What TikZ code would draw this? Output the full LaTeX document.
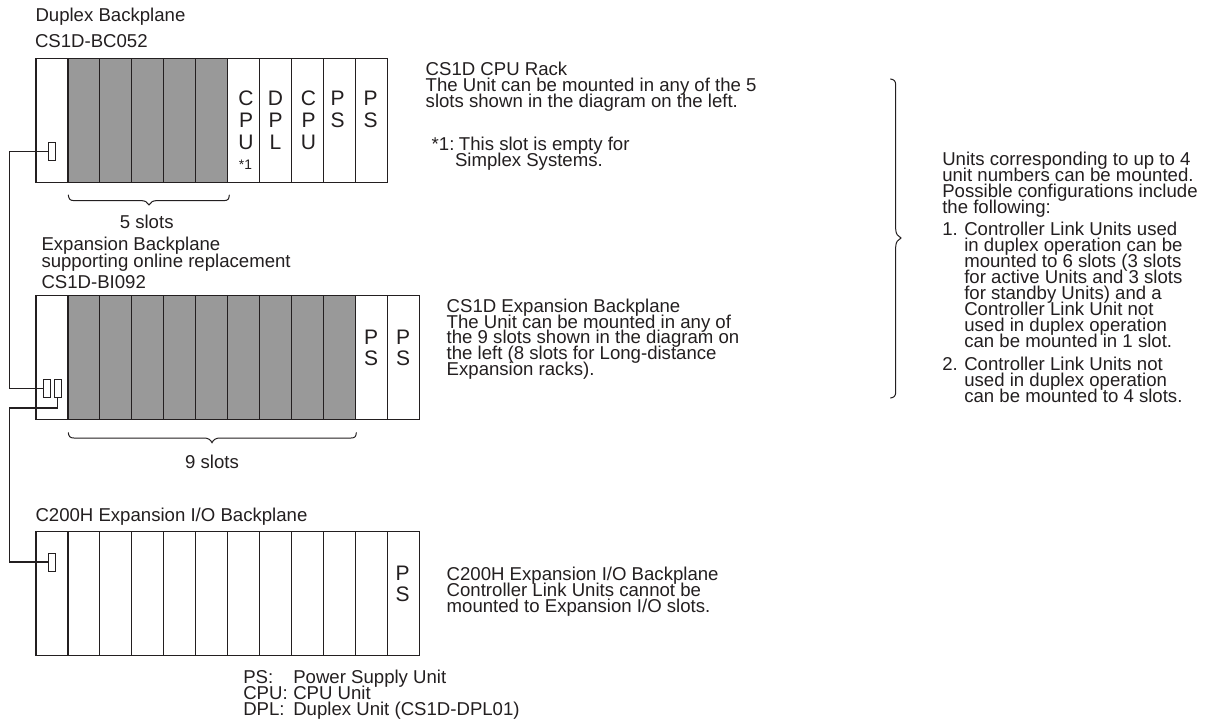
\documentclass[tikz,border=0pt]{standalone}
\usepackage{fontspec}
\setmainfont{Liberation Sans}
\definecolor{ink}{HTML}{231F20}
\definecolor{slotgray}{HTML}{999999}
\newcommand{\paralines}[2][16]{\vtop{\baselineskip=#1pt\lineskiplimit=-100pt\lineskip=0pt\let\\\cr\halign{##\hfil\cr #2\crcr}}}
\newcommand{\stacklines}[1]{\vtop{\baselineskip=21.8pt\lineskiplimit=-100pt\lineskip=0pt\let\\\cr\halign{\hfil##\hfil\cr #1\crcr}}}
\newcommand{\ind}[2]{\hbox to #1pt{#2\hfil}}
\tikzset{
  lab/.style={anchor=base west,inner sep=0pt,outer sep=0pt,text=ink,font=\fontsize{18.6}{16}\selectfont},
  labmid/.style={lab,anchor=base},
  letters/.style={anchor=base,inner sep=0pt,outer sep=0pt,text=ink,font=\fontsize{21}{22}\selectfont},
  mark1/.style={anchor=base,inner sep=0pt,outer sep=0pt,text=ink,font=\fontsize{13.8}{14}\selectfont},
  slotbox/.style={draw=ink,line width=1.1pt,fill=white,minimum width=31.95pt,minimum height=#1,inner sep=0pt,outer sep=0pt,anchor=north west},
  grayslot/.style={slotbox=#1,fill=slotgray},
  socket/.style={draw=ink,line width=1pt,fill=white,minimum width=7.2pt,minimum height=18pt,inner sep=0pt,outer sep=0pt},
  wire/.style={draw=ink,line width=1.1pt},
  curly/.style={draw=ink,line width=1pt,line cap=round}
}
\begin{document}
\begin{tikzpicture}[x=1pt,y=-1pt]
\useasboundingbox (0,0) rectangle (1206,720);
\fill[white] (0,0) rectangle (1206,720);
% Rack 1
\foreach \i in {0,...,10}{
  \ifnum\i>0 \ifnum\i<6 \node[grayslot=124pt] (ra\i) at ({36+31.97*\i},58.3) {};
  \else \node[slotbox=124pt] (ra\i) at ({36+31.97*\i},58.3) {}; \fi
  \else \node[slotbox=124pt] (ra\i) at ({36+31.97*\i},58.3) {}; \fi
}
% Rack 2
\foreach \i in {0,...,11}{
  \ifnum\i>0 \ifnum\i<10 \node[grayslot=124pt] (rb\i) at ({36+31.97*\i},295.3) {};
  \else \node[slotbox=124pt] (rb\i) at ({36+31.97*\i},295.3) {}; \fi
  \else \node[slotbox=124pt] (rb\i) at ({36+31.97*\i},295.3) {}; \fi
}
% Rack 3
\foreach \i in {0,...,11}{
  \node[slotbox=123.6pt] (rc\i) at ({36+31.97*\i},531.7) {};
}
% Slot letters
\node[letters] (u1) at (246,105.7) {\stacklines{C\\P\\U}};
\node[mark1] (m1) at (245.5,169) {*1};
\node[letters] (u2) at (275.5,105.7) {\stacklines{D\\P\\L}};
\node[letters] (u3) at (308.5,105.7) {\stacklines{C\\P\\U}};
\node[letters] (u4) at (337.5,105.7) {\stacklines{P\\S}};
\node[letters] (u5) at (370.5,105.7) {\stacklines{P\\S}};
\node[letters] (u6) at (371,344) {\stacklines{P\\S}};
\node[letters] (u7) at (403,344) {\stacklines{P\\S}};
\node[letters] (u8) at (402.5,580) {\stacklines{P\\S}};
% Sockets and wiring
\node[socket] (sa) at (51.7,151.3) {};
\node[socket] (sb) at (46.8,388.3) {};
\node[socket] (sc) at (57.7,388.3) {};
\node[socket] (sd) at (51.7,562) {};
\coordinate (busx) at (9.5,0);
\coordinate (lowrun) at (0,408);
\draw[wire] (sa.west) -- (sa.west -| busx) -- (sb.west -| busx) -- (sb.west);
\draw[wire] (sc.south) -- (sc.south |- lowrun) -- (lowrun -| busx) -- (sd.west -| busx) -- (sd.west);
% Braces
\draw[curly] (68.3,195) .. controls (68.8,199) and (70,200.6) .. (74,200.6) -- (141,200.6) .. controls (145,200.6) and (147.5,202) .. (149,205) .. controls (150.5,202) and (153,200.6) .. (157,200.6) -- (224,200.6) .. controls (228,200.6) and (229,199) .. (229.3,195);
\draw[curly] (68.3,432.7) .. controls (68.8,436.5) and (70,438) .. (74,438) -- (204,438) .. controls (208,438) and (210.5,439.5) .. (212,442.7) .. controls (213.5,439.5) and (216,438) .. (220,438) -- (351,438) .. controls (355,438) and (356,436.5) .. (356.3,432.7);
\draw[curly] (890.5,79) .. controls (894,79.5) and (895.7,81) .. (895.7,85) -- (895.7,229) .. controls (895.7,234) and (898,236.5) .. (901,238) .. controls (898,239.5) and (895.7,242) .. (895.7,247) -- (895.7,392) .. controls (895.7,396) and (894,397.5) .. (890.5,398);
% Labels
\node[lab] (t1) at (35.5,21.7) {Duplex Backplane};
\node[lab] (t2) at (35,47.3) {CS1D-BC052};
\node[labmid] (t3) at (146.7,228.3) {5 slots};
\node[lab] (t4) at (41.5,250.7) {\paralines[16.4]{Expansion Backplane\\supporting online replacement}};
\node[lab] (t5) at (41.5,288.3) {CS1D-BI092};
\node[labmid] (t6) at (212,468) {9 slots};
\node[lab] (t7) at (35.5,521.7) {C200H Expansion I/O Backplane};
\node[lab] (d1) at (425.7,75) {\paralines{CS1D CPU Rack\\The Unit can be mounted in any of the 5\\slots shown in the diagram on the left.}};
\node[lab] (d2) at (431.7,150) {\paralines{\ind{27.3}{*1:}This slot is empty for\\\ind{23.3}{}Simplex Systems.}};
\node[lab] (d3) at (446.7,312.3) {\paralines[15.8]{CS1D Expansion Backplane\\The Unit can be mounted in any of\\the 9 slots shown in the diagram on\\the left (8 slots for Long-distance\\Expansion racks).}};
\node[lab] (d4) at (446.7,580.7) {\paralines{C200H Expansion I/O Backplane\\Controller Link Units cannot be\\mounted to Expansion I/O slots.}};
\node[lab] (d5) at (243.3,683.3) {\paralines{\ind{50}{PS:}Power Supply Unit\\\ind{50}{CPU:}CPU Unit\\\ind{50}{DPL:}Duplex Unit (CS1D-DPL01)}};
\node[lab] (d6) at (942.3,165) {\paralines[16.3]{Units corresponding to up to 4\\unit numbers can be mounted.\\Possible configurations include\\the following:}};
\node[lab] (d7) at (942.3,235.7) {\paralines{\ind{22}{1.}Controller Link Units used\\\ind{22}{}in duplex operation can be\\\ind{22}{}mounted to 6 slots (3 slots\\\ind{22}{}for active Units and 3 slots\\\ind{22}{}for standby Units) and a\\\ind{22}{}Controller Link Unit not\\\ind{22}{}used in duplex operation\\\ind{22}{}can be mounted in 1 slot.}};
\node[lab] (d8) at (942.3,370) {\paralines{\ind{22}{2.}Controller Link Units not\\\ind{22}{}used in duplex operation\\\ind{22}{}can be mounted to 4 slots.}};
\end{tikzpicture}
\end{document}
